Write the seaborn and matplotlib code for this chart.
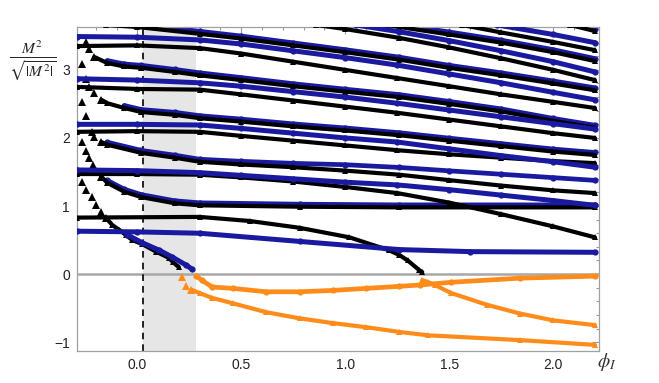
import numpy as np
import pandas as pd
import matplotlib
matplotlib.use("Agg")
import matplotlib.pyplot as plt
import seaborn as sns
from matplotlib.transforms import ScaledTranslation
from matplotlib.ticker import MultipleLocator

# ---------------- data ----------------
phi_flat = [-0.29, 0.0, 0.3, 0.5, 0.75, 1.0, 1.25, 1.5, 1.75, 2.0, 2.2]
B1 = [3.49, 3.48, 3.44, 3.38, 3.28, 3.18, 3.07, 2.94, 2.81, 2.67, 2.56]
K1 = [3.35, 3.36, 3.32, 3.24, 3.12, 3.00, 2.88, 2.76, 2.64, 2.53, 2.44]
B2 = [2.87, 2.85, 2.81, 2.76, 2.68, 2.60, 2.51, 2.41, 2.31, 2.21, 2.13]
K2 = [2.75, 2.72, 2.71, 2.64, 2.55, 2.46, 2.37, 2.27, 2.17, 2.07, 2.00]
B3 = [2.20, 2.20, 2.19, 2.14, 2.07, 2.00, 1.94, 1.84, 1.74, 1.65, 1.57]
K3 = [2.09, 2.10, 2.09, 2.03, 1.96, 1.89, 1.82, 1.76, 1.71, 1.66, 1.63]
B4 = [1.53, 1.52, 1.49, 1.45, 1.40, 1.35, 1.31, 1.24, 1.16, 1.08, 1.01]
K4 = [1.47, 1.47, 1.46, 1.42, 1.36, 1.28, 1.19, 1.05, 0.88, 0.70, 0.54]

phi_B5 = [-0.29, 0.0, 0.3, 0.78, 1.26, 1.6, 2.2]
B5 = [0.63, 0.62, 0.60, 0.48, 0.36, 0.33, 0.32]
phi_K5 = [-0.29, 0.3, 0.54, 0.78, 1.02, 1.21, 1.26, 1.30, 1.355, 1.37]
K5 = [0.83, 0.84, 0.78, 0.68, 0.54, 0.35, 0.28, 0.20, 0.06, 0.03]

# entering from the top on the right
phi_KA = [0.86, 1.0, 1.26, 1.5, 1.75, 2.0, 2.2]
KA = [3.66, 3.60, 3.47, 3.33, 3.17, 3.00, 2.85]
phi_BA = [1.05, 1.26, 1.5, 1.75, 2.0, 2.2]
BA = [3.66, 3.56, 3.43, 3.28, 3.12, 2.97]
phi_DA = [1.2, 1.26, 1.5, 1.75, 2.0, 2.2]
DA = [3.66, 3.63, 3.52, 3.40, 3.26, 3.13]
phi_KB = [1.56, 1.75, 2.0, 2.2]
KB = [3.66, 3.55, 3.41, 3.29]
phi_BB = [1.73, 2.0, 2.2]
BB = [3.66, 3.52, 3.40]
phi_DB = [2.08, 2.2]
DB = [3.66, 3.57]

# descending curves
phi_D0 = [-0.15, 0.0, 0.3, 0.5, 0.75, 1.0, 1.26, 1.5, 1.75, 2.0, 2.2]
D0 = [3.66, 3.63, 3.53, 3.46, 3.36, 3.26, 3.15, 3.03, 2.92, 2.80, 2.70]
phi_D1 = [-0.245, -0.23, -0.207, -0.144, -0.063, 0.02, 0.18, 0.3, 0.5, 0.75, 1.0, 1.26, 1.5, 1.75, 2.0, 2.2]
D1 = [3.41, 3.30, 3.19, 3.10, 3.05, 3.03, 2.97, 2.92, 2.85, 2.76, 2.68, 2.60, 2.50, 2.39, 2.25, 2.15]
phi_D2 = [-0.265, -0.245, -0.23, -0.207, -0.173, -0.144, -0.063, 0.02, 0.18, 0.3, 0.5, 0.75, 1.0, 1.26, 1.5, 1.75, 2.0, 2.2]
D2 = [3.09, 2.87, 2.75, 2.66, 2.56, 2.51, 2.44, 2.38, 2.34, 2.29, 2.24, 2.17, 2.11, 2.04, 1.96, 1.88, 1.80, 1.75]
phi_D3 = [-0.265, -0.245, -0.216, -0.207, -0.173, -0.144, 0.02, 0.18, 0.3, 0.5, 0.75, 1.0, 1.26, 1.5, 1.75, 2.0, 2.2]
D3 = [2.53, 2.32, 2.09, 2.01, 1.94, 1.90, 1.78, 1.71, 1.65, 1.61, 1.57, 1.52, 1.46, 1.38, 1.30, 1.23, 1.19]
phi_D3b = [-0.144, 0.02, 0.18, 0.3, 0.5, 0.75, 1.0, 1.26, 1.5, 1.75, 2.0, 2.2]
D3b = [1.90, 1.78, 1.71, 1.65, 1.62, 1.59, 1.57, 1.53, 1.48, 1.43, 1.38, 1.34]
phi_D4 = [-0.265, -0.245, -0.23, -0.215, -0.197, -0.173, -0.144, -0.063, 0.02, 0.18, 0.3, 0.78, 1.26, 2.2]
D4 = [1.94, 1.81, 1.70, 1.60, 1.51, 1.43, 1.34, 1.21, 1.13, 1.04, 1.01, 0.99, 0.98, 0.98]
phi_D5 = [-0.265, -0.245, -0.22, -0.197, -0.173, -0.149, -0.12, -0.087, -0.053, -0.024, 0.024, 0.09, 0.15, 0.17, 0.2]
D5 = [1.35, 1.24, 1.13, 1.01, 0.91, 0.82, 0.72, 0.65, 0.57, 0.50, 0.44, 0.33, 0.24, 0.18, 0.10]
phi_D5b = [-0.05, 0.024, 0.106, 0.168, 0.236, 0.264]
D5b = [0.58, 0.46, 0.35, 0.25, 0.13, 0.07]

# number of isolated (steep) leading samples on each descending branch
steep_D = {"D1": 3, "D2": 5, "D3": 5, "D4": 6, "D5": 6}

# negative branches (orange)
phi_O1 = [0.216, 0.236, 0.26, 0.3, 0.36, 0.46, 0.62, 0.78, 0.94, 1.1, 1.26, 1.4, 1.84, 2.2]
O1 = [-0.05, -0.18, -0.23, -0.28, -0.35, -0.43, -0.56, -0.65, -0.72, -0.78, -0.85, -0.90, -0.97, -1.04]
phi_O2 = [0.284, 0.31, 0.36, 0.46, 0.62, 0.78, 0.94, 1.1, 1.26, 1.36, 1.51, 1.84, 2.2]
O2 = [-0.03, -0.09, -0.19, -0.21, -0.26, -0.26, -0.24, -0.21, -0.18, -0.16, -0.12, -0.06, -0.03]
phi_O3 = [1.37, 1.40, 1.43, 1.51, 1.68, 1.84, 2.0, 2.2]
O3 = [-0.09, -0.12, -0.16, -0.28, -0.45, -0.58, -0.68, -0.75]

x_ticks = [0.0, 0.5, 1.0, 1.5, 2.0]
y_ticks = [-1, 0, 1, 2, 3]
phi_cut = 0.025
phi_band_end = 0.28

# ---------------- figure ----------------
sns.set_style("white")
plt.rcParams["font.family"] = ["Liberation Sans", "DejaVu Sans"]
plt.rcParams["mathtext.fontset"] = "stix"

fig = plt.figure(figsize=(6.59, 3.83), dpi=100)
ax = fig.add_axes([77 / 659, 1 - 351 / 383, (599 - 77) / 659, (351 - 27) / 383])

BLUE = "#1a1aa0"
BLACK = "#000000"
ORANGE = "#ff8c1a"

ax.axvspan(phi_cut, phi_band_end, color="#e6e6e6", zorder=0, lw=0)
ax.axhline(0, color="#a8a8a8", lw=1.8, zorder=1)
ax.axvline(phi_cut, color="black", lw=1.2, ls=(0, (4, 3)), zorder=1)


def draw(xs, ys, color, marker, dy=0.0, ms=4.0, lw=3.0, z=3):
    sns.lineplot(x=xs, y=ys, color=color, marker=marker, markersize=ms,
                 markeredgewidth=0, linewidth=lw, sort=False, estimator=None,
                 ax=ax, zorder=z)
    ln = ax.lines[-1]
    if lw == 0:
        ln.set_linestyle("none")
    if dy:
        ln.set_transform(ax.transData + ScaledTranslation(0, dy / 72, fig.dpi_scale_trans))


# blue companions of the descending branches (drawn slightly above)
for xs, ys in [(phi_D0, D0), (phi_D1[3:], D1[3:]), (phi_D2[6:], D2[6:]),
               (phi_D4[6:], D4[6:]), (phi_DA, DA), (phi_DB, DB)]:
    draw(xs, ys, BLUE, "o", dy=1.8, ms=4.5, lw=3.4, z=2)
draw(phi_D3b, D3b, BLUE, "o", dy=1.8, ms=4.5, lw=3.4, z=2)

# descending branches: isolated triangles on the steep part, band afterwards
for name, xs, ys in [("D1", phi_D1, D1), ("D2", phi_D2, D2), ("D3", phi_D3, D3),
                     ("D4", phi_D4, D4), ("D5", phi_D5, D5)]:
    n = steep_D[name]
    draw(xs[:n], ys[:n], BLACK, "^", ms=5.5, lw=0, z=3)
    draw(xs[n - 1:], ys[n - 1:], BLACK, "^", ms=5.0, lw=3.0, z=3)

for xs, ys in [(phi_D0, D0), (phi_DA, DA), (phi_DB, DB), (phi_KA, KA), (phi_KB, KB),
               (phi_flat, K1), (phi_flat, K2), (phi_flat, K3), (phi_flat, K4), (phi_K5, K5)]:
    draw(xs, ys, BLACK, "^", ms=5.0, lw=3.0, z=3)

for xs, ys in [(phi_flat, B1), (phi_flat, B2), (phi_flat, B3), (phi_flat, B4), (phi_B5, B5),
               (phi_BA, BA), (phi_BB, BB), (phi_D5b, D5b)]:
    draw(xs, ys, BLUE, "o", ms=4.5, lw=3.6, z=4)

draw(phi_O1[:3], O1[:3], ORANGE, "^", ms=5.5, lw=0, z=3)
draw(phi_O1[2:], O1[2:], ORANGE, "^", ms=5.0, lw=3.0, z=3)
draw(phi_O3, O3, ORANGE, "^", ms=5.0, lw=3.0, z=3)
draw(phi_O2, O2, ORANGE, "o", ms=4.5, lw=3.4, z=4)

ax.set_xlim(-0.29, 2.22)
ax.set_ylim(-1.13, 3.63)
ax.set_xticks(x_ticks)
ax.set_xticklabels([f"{v:.1f}" for v in x_ticks])
ax.set_yticks(y_ticks)
ax.set_yticklabels(["\u22121", "0", "1", "2", "3"])
ax.xaxis.set_minor_locator(MultipleLocator(0.1))
ax.yaxis.set_minor_locator(MultipleLocator(0.2))
ax.tick_params(which="both", direction="in", top=True, right=True, color="#999999",
               labelsize=10, labelcolor="#222222", width=0.8)
ax.tick_params(which="major", length=5, pad=5)
ax.tick_params(which="minor", length=2.5)
for s in ax.spines.values():
    s.set_color("#a0a0a0")
    s.set_linewidth(0.9)
ax.set_xlabel("")
ax.set_ylabel("")

fig.text(607 / 659, 1 - 362 / 383, r"$\phi_I$", fontsize=14, ha="center", va="center", color="#333333")
fig.text(33 / 659, 1 - 62 / 383, r"$\frac{M^2}{\sqrt{|M^2|}}$", fontsize=16, ha="center", va="center")

fig.savefig("out.png", dpi=100)
